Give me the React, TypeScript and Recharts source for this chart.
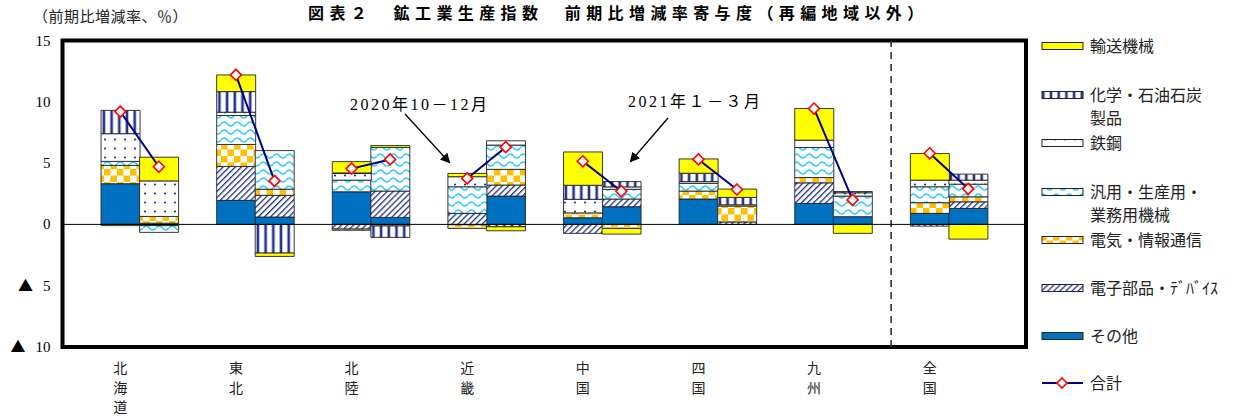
import React from 'react';
import { ComposedChart, Bar, Line, XAxis, YAxis, ReferenceLine, ReferenceArea } from 'recharts';

const regions = ['北海道', '東北', '北陸', '近畿', '中国', '四国', '九州', '全国'];

// 2020年10-12月 (q4) and 2021年1-3月 (q1) contributions
const sonotaQ4 = [3.32, 1.96, 2.66, -0.03, 0.54, 2.07, 1.71, 0.9];
const sonotaQ1 = [-0.1, 0.6, 0.57, 2.31, 1.44, 0, 0.63, 1.3];
const denshiQ4 = [0, 2.77, -0.38, 0.9, -0.73, 0, 1.68, -0.14];
const denshiQ1 = [0.1, 1.77, 2.15, 0.9, 0.63, 0.2, 0, 0.54];
const denkiQ4 = [1.49, 1.79, -0.1, -0.3, 0.4, 0.65, 0.43, 0.87];
const denkiQ1 = [0.55, 0.5, -0.13, 1.28, -0.33, 1.3, 0, 0.41];
const hanyoQ4 = [0.33, 2.36, 0.95, 2.17, 0, 0.63, 2.45, 1.3];
const hanyoQ1 = [-0.55, 3.15, 3.56, 1.98, 0.79, 0, 1.68, 1.03];
const tekkoQ4 = [2.26, 0.27, 0.54, 0.82, 1.11, 0.14, 0.6, 0.54];
const tekkoQ1 = [2.9, 0, 0, 0.35, 0.2, 0.1, 0.27, 0.33];
const kagakuQ4 = [1.9, 1.68, 0.05, 0, 1.14, 0.68, 0, 0];
const kagakuQ1 = [0, -2.34, -0.93, -0.19, 0.43, 0.6, 0.1, 0.49];
const yusouQ4 = [-0.1, 1.36, 0.92, 0.27, 2.72, 1.17, 2.58, 2.17];
const yusouQ1 = [1.93, -0.27, 0.15, -0.33, -0.46, 0.68, -0.73, -1.2];
const totalQ4 = [9.2, 12.2, 4.55, 3.75, 5.15, 5.3, 9.45, 5.8];
const totalQ1 = [4.7, 3.55, 5.3, 6.3, 2.7, 2.85, 2.0, 2.9];

const yTicks = [-10, -5, 0, 5, 10, 15];

// bottom-to-top stacking order
const series = [
  { key: 'sonota', name: 'その他', fill: 'url(#pSonota)', q4: sonotaQ4, q1: sonotaQ1 },
  { key: 'denshi', name: '電子部品・ﾃﾞﾊﾞｲｽ', fill: 'url(#pDenshi)', q4: denshiQ4, q1: denshiQ1 },
  { key: 'denki', name: '電気・情報通信', fill: 'url(#pDenki)', q4: denkiQ4, q1: denkiQ1 },
  { key: 'hanyo', name: '汎用・生産用・業務用機械', fill: 'url(#pHanyo)', q4: hanyoQ4, q1: hanyoQ1 },
  { key: 'tekko', name: '鉄鋼', fill: 'url(#pTekko)', q4: tekkoQ4, q1: tekkoQ1 },
  { key: 'kagaku', name: '化学・石油石炭製品', fill: 'url(#pKagaku)', q4: kagakuQ4, q1: kagakuQ1 },
  { key: 'yusou', name: '輸送機械', fill: 'url(#pYusou)', q4: yusouQ4, q1: yusouQ1 },
];

// one slot per bar, plus an empty slot between regions
const rows: any[] = [{ key: 'start' }];
regions.forEach((r, i) => {
  const a: any = { key: `${i}-q4`, label: r, total: totalQ4[i] };
  const b: any = { key: `${i}-q1`, total: totalQ1[i] };
  series.forEach((s) => {
    a[s.key] = s.q4[i];
    b[s.key] = s.q1[i];
  });
  rows.push(a, b, { key: `gap${i}` });
});

const SERIF = '"Liberation Serif", "Noto Sans CJK JP", serif';
const GOTHIC = '"Noto Sans CJK JP", sans-serif';
const NAVY = '#23308f';

const Diamond = (props: any) => {
  const { cx, cy, value, index } = props;
  if (value == null || cx == null || cy == null) return <g key={`d-${index}`} />;
  const r = 5.5;
  return (
    <polygon
      key={`d-${index}`}
      points={`${cx},${cy - r} ${cx + r},${cy} ${cx},${cy + r} ${cx - r},${cy}`}
      fill="#fff"
      stroke="#ff0000"
      strokeWidth={1.6}
    />
  );
};

const RegionTick = (props: any) => {
  const { x, y, payload } = props;
  const row = rows.find((d) => d.key === payload.value);
  if (!row || !row.label) return <g />;
  return (
    <text x={x} textAnchor="middle" fontSize={14} fontFamily={GOTHIC} fill="#222">
      {row.label.split('').map((c: string, k: number) => (
        <tspan key={k} x={x} y={y + 26 + k * 19.5} fill="#222">{c}</tspan>
      ))}
    </text>
  );
};

// negative values are written with a ▲ in front
const ValueTick = (props: any) => {
  const { x, y, payload } = props;
  const v = payload.value;
  const digits = String(Math.abs(v)).length;
  return (
    <g>
      {v < 0 && (
        <text x={x - digits * 7.5 - 10} y={y + 5} textAnchor="end" fontSize={15} fontFamily={GOTHIC} fill="#000">▲</text>
      )}
      <text x={x} y={y + 5} textAnchor="end" fontSize={15} fontFamily={SERIF} fill="#000">
        {Math.abs(v)}
      </text>
    </g>
  );
};

const legendItems = [
  { y: 46, fill: 'url(#pYusou)', lines: ['輸送機械'] },
  { y: 95, fill: 'url(#pKagaku)', lines: ['化学・石油石炭', '製品'] },
  { y: 143, fill: 'url(#pTekko)', lines: ['鉄鋼'] },
  { y: 192, fill: 'url(#pHanyo)', lines: ['汎用・生産用・', '業務用機械'] },
  { y: 240, fill: 'url(#pDenki)', lines: ['電気・情報通信'] },
  { y: 288, fill: 'url(#pDenshi)', lines: ['電子部品・ﾃﾞﾊﾞｲｽ'] },
  { y: 336, fill: 'url(#pSonota)', lines: ['その他'] },
];

export default function App() {
  return (
    <div style={{ position: 'absolute', left: 0, top: 0, width: 1239, height: 419, background: '#fff' }}>
      <svg width={1239} height={419} style={{ position: 'absolute', left: 0, top: 0 }}>
        <defs>
          <pattern id="pYusou" width="10" height="10" patternUnits="userSpaceOnUse">
            <rect width="10" height="10" fill="#ffff00" />
          </pattern>
          <pattern id="pSonota" width="10" height="10" patternUnits="userSpaceOnUse">
            <rect width="10" height="10" fill="#0070c0" />
          </pattern>
          <pattern id="pKagaku" width="7.7" height="10" patternUnits="userSpaceOnUse">
            <rect width="7.7" height="10" fill="#fff" />
            <rect x="2.5" width="2.6" height="10" fill={NAVY} />
          </pattern>
          <pattern id="pTekko" width="10" height="9" patternUnits="userSpaceOnUse">
            <rect width="10" height="9" fill="#fff" />
            <circle cx="5" cy="4.5" r="1.1" fill={NAVY} />
          </pattern>
          <pattern id="pHanyo" width="13" height="8" patternUnits="userSpaceOnUse">
            <rect width="13" height="8" fill="#fff" />
            <path d="M0 4 Q3.25 0 6.5 4 T13 4" fill="none" stroke="#33ccff" strokeWidth="1.6" />
          </pattern>
          <pattern id="pDenki" width="13" height="13" patternUnits="userSpaceOnUse">
            <rect width="13" height="13" fill="#fff" />
            <rect width="6.5" height="6.5" fill="#ffc000" />
            <rect x="6.5" y="6.5" width="6.5" height="6.5" fill="#ffc000" />
          </pattern>
          <pattern id="pDenshi" width="4.3" height="10" patternUnits="userSpaceOnUse" patternTransform="rotate(45)">
            <rect width="4.3" height="10" fill="#fff" />
            <rect x="0" width="1.3" height="10" fill={NAVY} />
          </pattern>
          <marker id="arrowHead" markerWidth="10" markerHeight="10" refX="8" refY="5" orient="auto" markerUnits="userSpaceOnUse">
            <path d="M0,0 L10,5 L0,10 Z" fill="#000" />
          </marker>
        </defs>
      </svg>

      <div style={{ position: 'absolute', left: 0, top: 0 }}>
        <ComposedChart
          width={1239}
          height={419}
          data={rows}
          stackOffset="sign"
          barCategoryGap={0}
          barGap={0}
          margin={{ top: 40.5, right: 213, bottom: 12, left: 7.5 }}
        >
          <XAxis
            dataKey="key"
            type="category"
            interval={0}
            axisLine={false}
            tickLine={false}
            tickSize={0}
            tickMargin={0}
            height={60}
            tick={<RegionTick />}
          />
          <YAxis
            domain={[-10, 15]}
            ticks={yTicks}
            allowDataOverflow
            width={55}
            axisLine={false}
            tickLine={false}
            tickSize={0}
            tickMargin={12}
            tick={<ValueTick />}
          />
          <ReferenceLine x="gap6" stroke="#333" strokeWidth={1.6} strokeDasharray="7 5" />
          {series.map((s) => (
            <Bar
              key={s.key}
              dataKey={s.key}
              name={s.name}
              stackId="a"
              fill={s.fill}
              stroke="#222"
              strokeWidth={0.9}
              isAnimationActive={false}
            />
          ))}
          <ReferenceLine y={0} stroke="#000" strokeWidth={1} />
          <ReferenceArea y1={-10} y2={15} fill="none" fillOpacity={0} stroke="#000" strokeWidth={4} ifOverflow="visible" />
          <Line
            dataKey="total"
            name="合計"
            stroke="#000080"
            strokeWidth={2}
            dot={Diamond}
            activeDot={false}
            connectNulls={false}
            isAnimationActive={false}
          />
        </ComposedChart>
      </div>

      <svg width={1239} height={419} style={{ position: 'absolute', left: 0, top: 0, pointerEvents: 'none' }}>
        <text x={33} y={22} fontSize={15} fontFamily={SERIF} fill="#222" letterSpacing={0.5}>（前期比増減率、％）</text>
        <text x={308} y={19} fontSize={16} fontWeight="bold" fontFamily={GOTHIC} fill="#000" letterSpacing={5.4}>
          図表２　鉱工業生産指数　前期比増減率寄与度（再編地域以外）
        </text>

        <text x={350} y={110} fontSize={16} fontFamily={SERIF} fill="#000" letterSpacing={2.5}>2020年10－12月</text>
        <line x1={405} y1={114} x2={449} y2={162} stroke="#000" strokeWidth={1.3} markerEnd="url(#arrowHead)" />
        <text x={628} y={107} fontSize={16} fontFamily={SERIF} fill="#000" letterSpacing={2.5}>2021年１－３月</text>
        <line x1={668} y1={118} x2={631} y2={161} stroke="#000" strokeWidth={1.3} markerEnd="url(#arrowHead)" />

        {legendItems.map((it) => (
          <g key={it.lines[0]}>
            <rect x={1042} y={it.y - 3.5} width={41} height={7} fill={it.fill} stroke="#222" strokeWidth={1} />
            {it.lines.map((t, k) => (
              <text key={k} x={1090} y={it.y + 6 + k * 23} fontSize={16} fontFamily={GOTHIC} fill="#222">{t}</text>
            ))}
          </g>
        ))}
        <line x1={1042} y1={383} x2={1083} y2={383} stroke="#000080" strokeWidth={2} />
        <polygon points="1062,378 1067,383 1062,388 1057,383" fill="#fff" stroke="#ff0000" strokeWidth={1.6} />
        <text x={1090} y={389} fontSize={16} fontFamily={GOTHIC} fill="#222">合計</text>
      </svg>
    </div>
  );
}
